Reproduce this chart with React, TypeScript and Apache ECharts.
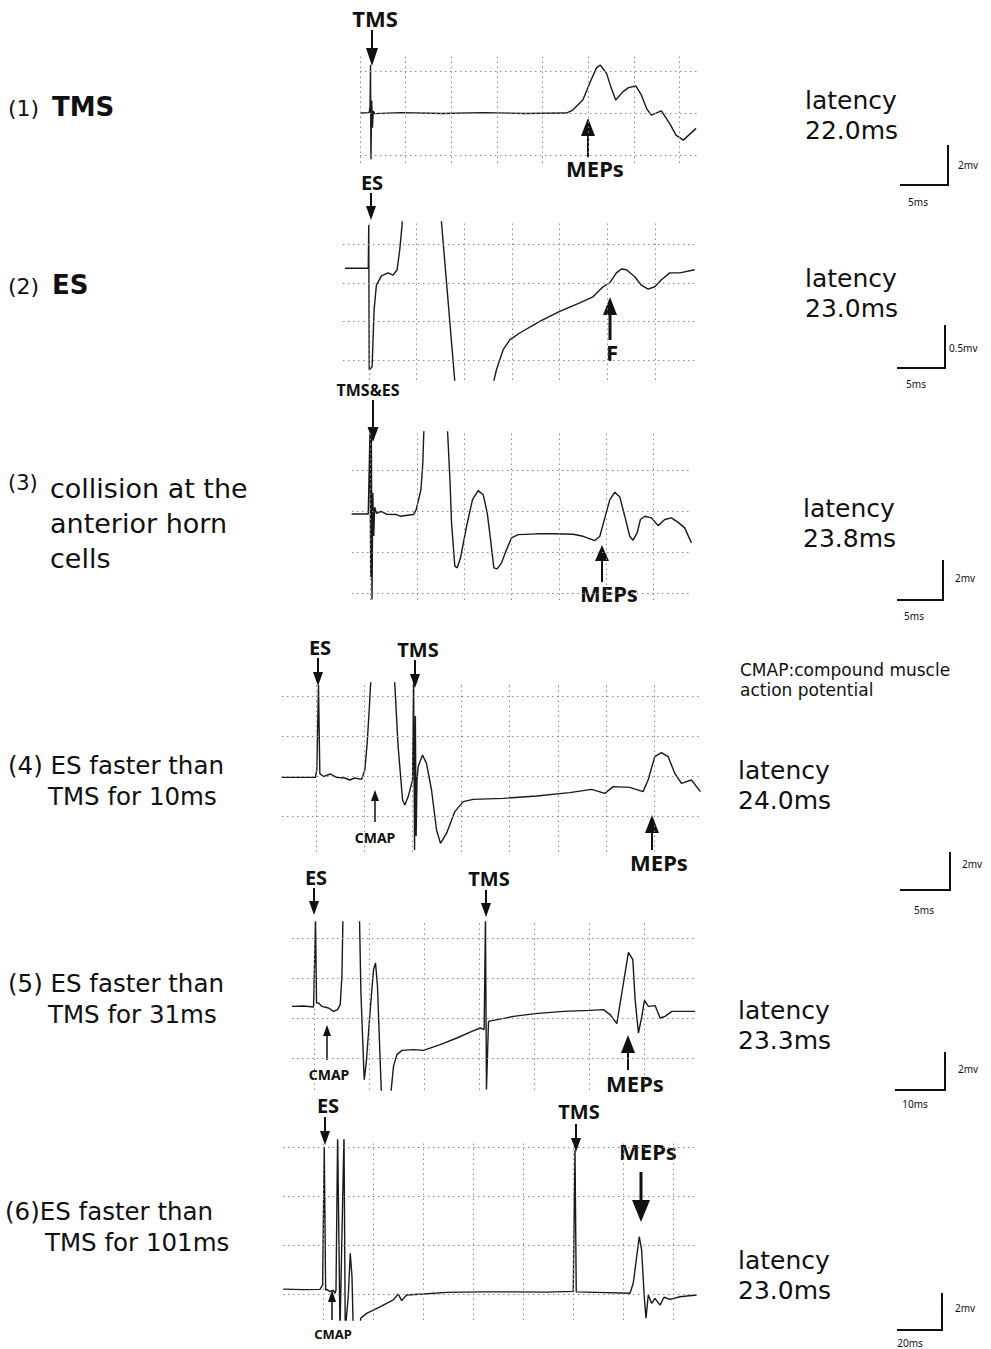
import React, { useEffect, useRef } from "react";
import * as echarts from "echarts";

type Pt = [number, number];

// ---- traces: x in ms (from stimulus), y in mV ----
const p1Trace: Pt[] = [
  [0, 0], [1.0, 0.02], [1.1, 0.3], [1.15, 2.3], [1.2, -2.2], [1.28, 0.6], [1.36, -0.7], [1.45, 0.1], [1.6, -0.03],
  [4.5, 0.02], [9, -0.02], [13.5, 0.02], [18, -0.02], [22.6, 0.0],
  [23.3, 0.14], [24.4, 0.62], [25.3, 1.57], [25.9, 2.15], [26.3, 2.29], [27.0, 1.89], [27.5, 1.2], [28.0, 0.62],
  [28.8, 1.02], [29.4, 1.21], [30.2, 1.29], [30.8, 0.86], [31.4, 0.2], [31.9, -0.1], [33.0, 0.1], [33.9, -0.49],
  [34.6, -1.05], [35.4, -1.29], [36.8, -0.73],
];
const p2Trace: Pt[] = [
  [-2.5, 0.19], [-0.05, 0.19], [0, 0.75], [0.05, -1.13], [0.35, -1.09], [0.56, -0.35], [0.8, -0.03],
  [1.33, 0.09], [2.03, 0.13], [2.55, 0.1], [2.97, 0.17], [3.25, 0.43], [3.49, 0.75], [3.6, 1.2],
  [7.35, 1.19], [9.3, -1.69], [12.9, -1.6],
  [13.1, -1.28], [13.38, -1.13], [14.08, -0.87], [14.78, -0.74], [15.83, -0.65], [17.92, -0.5], [20.02, -0.37],
  [22.12, -0.26], [23.51, -0.18], [24.56, -0.05], [25.26, 0.0], [25.96, 0.13], [26.49, 0.18], [27.01, 0.17],
  [27.88, 0.08], [28.58, -0.03], [29.28, -0.08], [29.98, -0.05], [30.68, 0.04], [31.55, 0.13], [32.6, 0.13],
  [34.17, 0.17],
];
const p3Trace: Pt[] = [
  [-1.94, -0.13], [-0.18, -0.13], [0, 3.8], [0.08, -3.2], [0.15, 3.8], [0.22, -4.3], [0.3, 0.9], [0.4, -1.2],
  [0.5, 0.2], [0.7, -0.1], [1.2, 0.0], [1.8, -0.15], [2.8, -0.16], [3.2, -0.24], [4.6, -0.16], [4.9, 0.08],
  [5.4, 1.06], [5.6, 2.37], [5.7, 3.83], [5.9, 5.5], [8.1, 5.5],
  [8.22, 3.9], [8.47, 1.55], [8.64, -0.57], [8.99, -2.68], [9.24, -2.76], [9.59, -2.27], [10.23, -0.73],
  [10.86, 0.57], [11.46, 1.01], [11.99, 0.81], [12.42, -0.08], [12.77, -1.38], [13.12, -2.76], [13.47, -2.81],
  [13.93, -2.52], [14.46, -1.87], [14.99, -1.3], [15.69, -1.14], [17.64, -1.1], [19.4, -1.1], [21.51, -1.12],
  [22.57, -1.22], [23.81, -1.43], [24.34, -1.22], [24.87, -0.32], [25.4, 0.57], [25.93, 0.93], [26.46, 0.7],
  [26.98, -0.24], [27.51, -1.22], [27.86, -1.41], [28.29, -1.05], [28.64, -0.4], [29.1, -0.24], [29.81, -0.32],
  [30.51, -0.7], [31.22, -0.4], [31.92, -0.32], [32.63, -0.54], [33.33, -0.81], [34.04, -1.54],
];
const p4Trace: Pt[] = [
  [-3.54, -0.07], [-0.05, -0.07], [0.1, 0.3], [0.27, 4.55], [0.41, 0.13], [0.76, -0.03], [1.5, 0.1], [2.14, -0.07],
  [3.0, -0.1], [3.51, -0.2], [4.0, -0.1], [4.72, -0.17], [5.06, 0.3], [5.3, 1.63], [5.51, 3.3], [5.65, 4.55],
  [5.9, 6], [8.0, 6], [8.16, 4.55], [8.5, 1.47], [8.96, -1.2], [9.19, -1.45], [9.54, -1.03], [9.99, -0.2],
  [10.1, 4.7], [10.2, -3.7], [10.28, 3.0], [10.36, -3.0], [10.45, -0.2], [10.57, 0.47], [11.02, 1.05],
  [11.43, 0.63], [11.95, -0.7], [12.47, -2.7], [12.88, -3.37], [13.5, -2.87], [14.36, -1.78], [15.22, -1.28],
  [16.25, -1.17], [19.35, -1.12], [22.8, -1.0], [26.24, -0.83], [28.48, -0.67], [29.86, -0.87], [30.72, -0.53],
  [32.44, -0.57], [33.81, -0.78], [34.33, -0.2], [35.02, 0.97], [35.71, 1.17], [36.4, 0.97], [37.09, 0.13],
  [37.78, -0.37], [38.29, -0.28], [38.81, -0.2], [39.74, -0.78],
];
const p5Trace: Pt[] = [
  [-4.1, 0.58], [-2, 0.6], [-0.18, 0.55], [0.18, 4.9], [0.36, 0.75], [0.73, 0.75], [1.35, 0.58], [2.55, 0.5],
  [3.45, 0.33], [4.18, 0.42], [4.67, 0.67], [4.98, 2.08], [5.16, 4.92], [5.3, 6], [8.1, 6],
  [8.18, 4.92], [8.44, 1.25], [8.8, -1.42], [9.04, -3.08], [9.4, -2.25], [10.13, 0.42], [10.73, 2.42],
  [11.09, 2.75], [11.45, 1.58], [11.82, -1.25], [12.13, -3.58], [12.3, -5], [13.8, -5],
  [13.95, -3.58], [14.36, -2.42], [14.98, -1.83], [15.89, -1.62], [18.0, -1.58], [19.82, -1.62], [22.85, -1.33],
  [25.89, -1.0], [28.62, -0.67], [30.13, -0.5], [30.85, -0.58], [31.09, 5.08], [31.27, -3.58], [31.64, -0.17],
  [36.18, 0.08], [40.13, 0.22], [45.27, 0.33], [50.13, 0.38], [52.55, 0.42], [53.76, 0.17], [54.98, -0.28],
  [55.89, 1.25], [57.09, 3.28], [57.89, 2.92], [58.31, 0.92], [58.91, -0.75], [59.53, 0.08], [60.0, 0.88],
  [60.73, 0.58], [61.95, 0.62], [62.85, 0.0], [63.76, 0.08], [64.98, 0.33], [66.49, 0.33], [69.22, 0.33],
];
const p6Trace: Pt[] = [
  [-16.0, 0.2], [-8, 0.18], [-1.3, 0.19], [-0.25, 0.37], [0.4, 6.01], [0.95, 0.16], [1.35, 0.19], [2.7, 0.1],
  [4.0, 0.16], [4.7, 0.03], [5.1, 0.16], [5.75, 6.5], [6.7, -1.5], [8.3, 6.5], [8.8, -1.5], [10.0, -0.1],
  [10.8, 1.66], [11.5, 0.71], [12.0, -1.5], [14.8, -1.5],
  [14.95, -0.99], [17.35, -0.79], [22.7, -0.52], [28.0, -0.24], [30.0, 0.0], [31.35, -0.27], [33.35, -0.04],
  [40.0, 0.0], [49.35, 0.07], [62.7, 0.09], [76.0, 0.09], [89.35, 0.08], [100.0, 0.11], [100.7, 5.88],
  [101.2, 0.09], [109.35, 0.07], [122.7, 0.03], [124.0, 0.44], [126.4, 2.34], [127.35, 1.8], [128.4, -0.11],
  [129.1, -0.99], [130.0, -0.04], [131.35, -0.38], [132.7, -0.18], [134.7, -0.45], [136.3, -0.13],
  [138.7, -0.22], [142.7, -0.11], [149.35, -0.04],
];

// ---- grid (division) lines ----
const p1XGrid = [0, 5, 10, 15, 20, 25, 30, 35];
const p1YGrid = [-2, 0, 2];
const p2XGrid = [0, 5, 10, 15, 20, 25, 30];
const p2YGrid = [0.5, 0, -0.5, -1];
const p3XGrid = [0, 5, 10, 15, 20, 25, 30];
const p3YGrid = [2, 0, -2, -4];
const p4XGrid = [0, 5, 10, 15, 20, 25, 30, 35];
const p4YGrid = [4, 2, 0, -2];
const p5XGrid = [0, 10, 20, 30, 40, 50, 60];
const p5YGrid = [4, 2, 0, -2];
const p6XGrid = [0, 20, 40, 60, 80, 100, 120, 140];
const p6YGrid = [6, 4, 2, 0];

// ---- texts ----
const latencies = ["22.0ms", "23.0ms", "23.8ms", "24.0ms", "23.3ms", "23.0ms"];
const scaleV = ["2mv", "0.5mv", "2mv", "2mv", "2mv", "2mv"];
const scaleH = ["5ms", "5ms", "5ms", "5ms", "10ms", "20ms"];

const FONT = '"DejaVu Sans", "Noto Sans", sans-serif';
const AFONT = '"Noto Sans", "DejaVu Sans", sans-serif';

const panels = [
  { rect: [360, 53, 337, 110], xr: [0, 36.9], yr: [-2.38, 2.86], xg: p1XGrid, yg: p1YGrid, data: p1Trace },
  { rect: [343, 222, 352, 158], xr: [-2.7, 34.2], yr: [-1.26, 0.79], xg: p2XGrid, yg: p2YGrid, data: p2Trace },
  { rect: [352, 432, 340, 168], xr: [-1.9, 34.1], yr: [-4.33, 3.87], xg: p3XGrid, yg: p3YGrid, data: p3Trace },
  { rect: [282, 683, 420, 169], xr: [-3.5, 39.9], yr: [-3.8, 4.65], xg: p4XGrid, yg: p4YGrid, data: p4Trace },
  { rect: [292, 922, 403, 168], xr: [-4.1, 69.2], yr: [-3.6, 4.8], xg: p5XGrid, yg: p5YGrid, data: p5Trace },
  { rect: [283, 1140, 412, 180], xr: [-16.1, 148.7], yr: [-1.06, 6.29], xg: p6XGrid, yg: p6YGrid, data: p6Trace },
];

function txt(text: string, x: number, y: number, size: number, weight = "normal", align = "left", family = FONT, lineHeight?: number) {
  return {
    type: "text",
    silent: true,
    style: {
      text, x, y,
      font: `${weight} ${size}px ${family}`,
      fill: "#111",
      textAlign: align,
      textVerticalAlign: "middle",
      ...(lineHeight ? { lineHeight } : {}),
    },
  };
}

function arrow(x: number, tail: number, tip: number, hw: number, hh: number, lw = 2) {
  const dir = Math.sign(tip - tail);
  return [
    { type: "line", silent: true, shape: { x1: x, y1: tail, x2: x, y2: tip - dir * hh * 0.6 }, style: { stroke: "#111", lineWidth: lw } },
    {
      type: "polygon", silent: true,
      shape: { points: [[x - hw / 2, tip - dir * hh], [x + hw / 2, tip - dir * hh], [x, tip]] },
      style: { fill: "#111" },
    },
  ];
}

function scaleBar(xv: number, yTop: number, yBot: number, xLeft: number, vLab: string, hLab: string, vx: number, vy: number, hx: number, hy: number) {
  return [
    { type: "polyline", silent: true, shape: { points: [[xv, yTop], [xv, yBot], [xLeft, yBot]] }, style: { stroke: "#111", lineWidth: 2, fill: "none" } },
    txt(vLab, vx, vy, 10, "normal", "left", AFONT),
    txt(hLab, hx, hy, 10, "normal", "center", AFONT),
  ];
}

function buildOption() {
  const grid: any[] = [];
  const xAxis: any[] = [];
  const yAxis: any[] = [];
  const series: any[] = [];
  panels.forEach((p, i) => {
    grid.push({ left: p.rect[0], top: p.rect[1], width: p.rect[2], height: p.rect[3], containLabel: false });
    xAxis.push({ type: "value", gridIndex: i, min: p.xr[0], max: p.xr[1], show: false });
    yAxis.push({ type: "value", gridIndex: i, min: p.yr[0], max: p.yr[1], show: false });
    series.push({
      type: "line", xAxisIndex: i, yAxisIndex: i, data: [], silent: true, z: 1,
      markLine: {
        silent: true, symbol: ["none", "none"], label: { show: false }, animation: false,
        lineStyle: { type: [1.5, 3.5], color: "#8c8c8c", width: 1 },
        emphasis: { disabled: true },
        data: [...p.xg.map((v) => ({ xAxis: v })), ...p.yg.map((v) => ({ yAxis: v }))],
      },
    });
    series.push({
      type: "line", xAxisIndex: i, yAxisIndex: i, data: p.data, showSymbol: false, symbol: "none",
      silent: true, clip: true, z: 2,
      lineStyle: { color: "#1a1a1a", width: 1.4 },
    });
  });

  const g: any[] = [];
  // left labels
  g.push(txt("(1)", 8, 108, 22), txt("TMS", 52, 107, 26, "bold"));
  g.push(txt("(2)", 8, 286, 22), txt("ES", 52, 285, 26, "bold"));
  g.push(txt("(3)", 8, 483, 21));
  g.push(txt("collision at the\nanterior horn\ncells", 50, 523, 27, "normal", "left", FONT, 35));
  g.push(txt("(4) ES faster than", 8, 765, 24.5), txt("TMS for 10ms", 48, 796, 24.5));
  g.push(txt("(5) ES faster than", 8, 983, 24.5), txt("TMS for 31ms", 48, 1014, 24.5));
  g.push(txt("(6)ES faster than", 5, 1211, 24.5), txt("TMS for 101ms", 45, 1242, 24.5));

  // latency
  const latPos = [[805, 115], [805, 293], [803, 523], [738, 785], [738, 1025], [738, 1275]];
  latPos.forEach(([x, y], i) => {
    g.push(txt("latency\n" + latencies[i], x, y, 25, "normal", "left", FONT, 30));
  });
  g.push(txt("CMAP:compound muscle\naction potential", 740, 680, 17, "normal", "left", FONT, 20));

  // scale bars
  g.push(...scaleBar(948, 145, 185, 900, scaleV[0], scaleH[0], 958, 165, 918, 202));
  g.push(...scaleBar(945, 325, 368, 897, scaleV[1], scaleH[1], 949, 348, 916, 384));
  g.push(...scaleBar(943, 560, 600, 897, scaleV[2], scaleH[2], 955, 578, 914, 616));
  g.push(...scaleBar(950, 852, 890, 900, scaleV[3], scaleH[3], 962, 864, 924, 910));
  g.push(...scaleBar(945, 1052, 1090, 895, scaleV[4], scaleH[4], 958, 1069, 915, 1104));
  g.push(...scaleBar(942, 1293, 1330, 897, scaleV[5], scaleH[5], 955, 1308, 910, 1343));

  // annotations
  g.push(txt("TMS", 375, 18, 22, "bold", "center", AFONT), ...arrow(372, 30, 66, 12, 18));
  g.push(txt("MEPs", 595, 168, 22, "bold", "center", AFONT), ...arrow(588, 157, 118, 14, 18));
  g.push(txt("ES", 372, 182, 20, "bold", "center", AFONT), ...arrow(371, 193, 220, 10, 14));
  g.push(txt("F", 612, 352, 22, "bold", "center", AFONT), ...arrow(610, 340, 297, 14, 18, 3));
  g.push(txt("TMS&ES", 368, 390, 16, "bold", "center", AFONT), ...arrow(373, 400, 442, 11, 15));
  g.push(txt("MEPs", 609, 593, 22, "bold", "center", AFONT), ...arrow(602, 582, 545, 14, 16));
  g.push(txt("ES", 320, 647, 20, "bold", "center", AFONT), ...arrow(318, 658, 686, 10, 14));
  g.push(txt("TMS", 418, 649, 20, "bold", "center", AFONT), ...arrow(415, 660, 688, 10, 14));
  g.push(txt("CMAP", 375, 837, 14, "bold", "center", AFONT), ...arrow(375, 822, 790, 8, 11, 1.5));
  g.push(txt("MEPs", 659, 862, 22, "bold", "center", AFONT), ...arrow(652, 850, 815, 14, 18));
  g.push(txt("ES", 316, 877, 20, "bold", "center", AFONT), ...arrow(314, 888, 915, 10, 14));
  g.push(txt("TMS", 489, 878, 20, "bold", "center", AFONT), ...arrow(486, 890, 917, 10, 14));
  g.push(txt("CMAP", 329, 1074, 14, "bold", "center", AFONT), ...arrow(327, 1060, 1025, 8, 11, 1.5));
  g.push(txt("MEPs", 635, 1083, 22, "bold", "center", AFONT), ...arrow(628, 1070, 1035, 14, 18));
  g.push(txt("ES", 328, 1105, 20, "bold", "center", AFONT), ...arrow(325, 1117, 1145, 10, 14));
  g.push(txt("TMS", 579, 1111, 20, "bold", "center", AFONT), ...arrow(576, 1124, 1152, 10, 14));
  g.push(txt("MEPs", 648, 1151, 22, "bold", "center", AFONT), ...arrow(641, 1172, 1222, 18, 22, 3));
  g.push(txt("CMAP", 333, 1334, 13, "bold", "center", AFONT), ...arrow(332, 1320, 1290, 8, 12, 1.5));

  return {
    animation: false,
    backgroundColor: "#ffffff",
    grid, xAxis, yAxis, series,
    graphic: { elements: g },
  };
}

export default function App() {
  const ref = useRef<HTMLDivElement>(null);
  useEffect(() => {
    if (!ref.current) return;
    const chart = echarts.init(ref.current, null, { renderer: "svg" });
    chart.setOption(buildOption() as any);
    return () => chart.dispose();
  }, []);
  return (
    <div
      ref={ref}
      style={{ position: "absolute", left: 0, top: 0, width: 991, height: 1349, background: "#fff" }}
    />
  );
}
